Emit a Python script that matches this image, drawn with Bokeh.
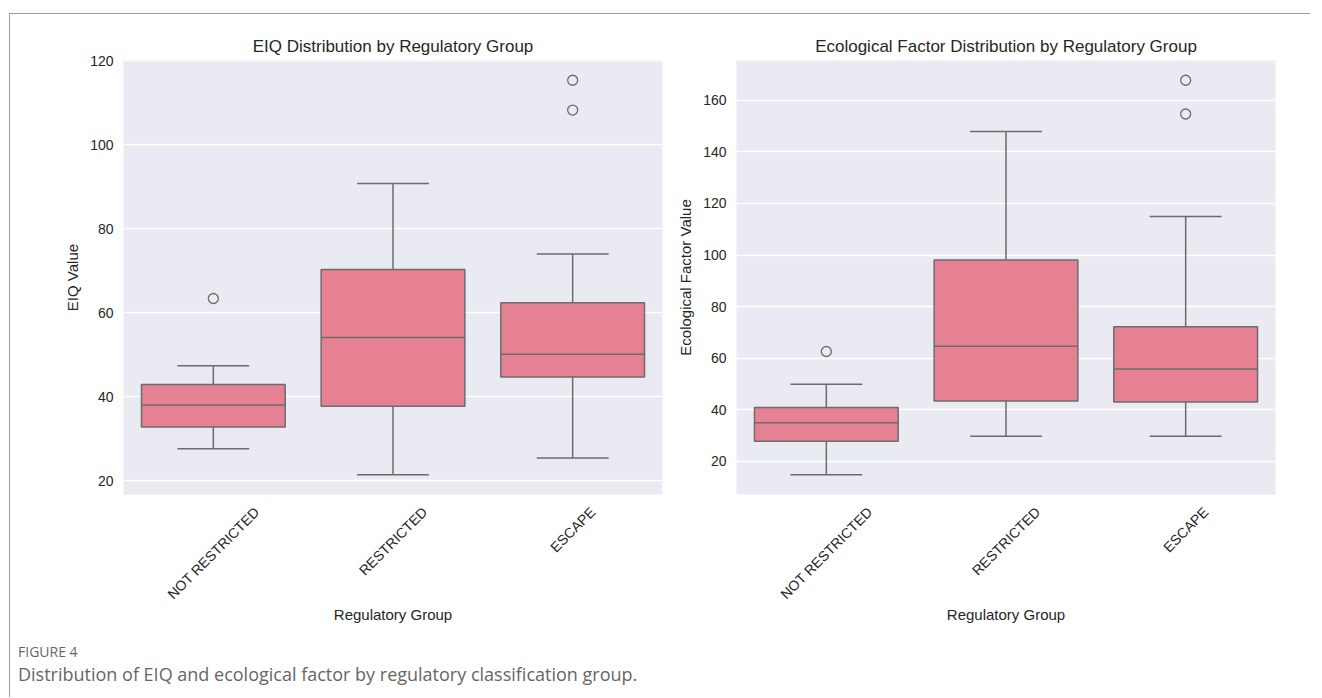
import math
from bokeh.plotting import figure
from bokeh.layouts import row, column
from bokeh.models import ColumnDataSource, Range1d, FixedTicker, Div
from bokeh.embed import file_html
from bokeh.resources import INLINE

groups = ["NOT RESTRICTED", "RESTRICTED", "ESCAPE"]

eiq_lower = [27.6, 21.4, 25.4]
eiq_q1 = [32.8, 37.7, 44.7]
eiq_median = [38.0, 54.1, 50.1]
eiq_q3 = [42.9, 70.3, 62.4]
eiq_upper = [47.4, 90.8, 74.0]
eiq_outlier_group = ["NOT RESTRICTED", "ESCAPE", "ESCAPE"]
eiq_outlier_value = [63.4, 115.4, 108.3]

eco_lower = [14.8, 29.7, 29.7]
eco_q1 = [27.8, 43.4, 43.0]
eco_median = [35.0, 64.6, 55.8]
eco_q3 = [40.9, 98.1, 72.2]
eco_upper = [49.9, 147.9, 115.0]
eco_outlier_group = ["NOT RESTRICTED", "ESCAPE", "ESCAPE"]
eco_outlier_value = [62.6, 167.8, 154.7]

eiq_ticks = [20, 40, 60, 80, 100, 120]
eco_ticks = [20, 40, 60, 80, 100, 120, 140, 160]

FONT = "Liberation Sans"
TEXT = "#262626"
BOX_FILL = "#e68193"
LINE = "#6c6c6c"
BG = "#eaeaf2"
XLABEL_PX = 14
FRAME_W = 539
BOX_W = 0.8

# Arial / Liberation Sans advance widths (per 1000 em) for label width estimate
_W = dict(A=667, B=667, C=722, D=722, E=667, F=611, G=778, H=722, I=278, J=500,
          K=667, L=556, M=833, N=722, O=778, P=667, Q=778, R=722, S=667, T=611,
          U=722, V=667, W=944, X=667, Y=667, Z=611)


def text_width(s, px):
    return sum(_W.get(c, 278) for c in s) / 1000.0 * px


def make_panel(title, ylabel, lower, q1, med, q3, upper, og, ov, ticks,
               width, height, bl, br):
    allv = lower + upper + ov
    lo, hi = min(allv), max(allv)
    pad = 0.05 * (hi - lo)
    n = len(groups)
    p = figure(x_range=Range1d(-0.5, n - 0.5), y_range=Range1d(lo - pad, hi + pad),
               width=width, height=height, output_backend="svg",
               toolbar_location=None, title=title,
               min_border_left=bl, min_border_right=br,
               min_border_top=46, min_border_bottom=10)
    pos = list(range(n))
    src = ColumnDataSource(dict(
        x=pos, capl=[x - BOX_W / 4 for x in pos], capr=[x + BOX_W / 4 for x in pos],
        boxl=[x - BOX_W / 2 for x in pos], boxr=[x + BOX_W / 2 for x in pos],
        lower=lower, q1=q1, med=med, q3=q3, upper=upper))
    # whiskers
    p.segment(x0="x", y0="q3", x1="x", y1="upper", source=src, line_color=LINE, line_width=1.5)
    p.segment(x0="x", y0="q1", x1="x", y1="lower", source=src, line_color=LINE, line_width=1.5)
    # caps
    p.segment(x0="capl", y0="upper", x1="capr", y1="upper", source=src,
              line_color=LINE, line_width=1.5)
    p.segment(x0="capl", y0="lower", x1="capr", y1="lower", source=src,
              line_color=LINE, line_width=1.5)
    # boxes
    p.vbar(x="x", width=BOX_W, bottom="q1", top="q3", source=src,
           fill_color=BOX_FILL, line_color=LINE, line_width=1.5)
    # median
    p.segment(x0="boxl", y0="med", x1="boxr", y1="med", source=src,
              line_color=LINE, line_width=1.5)
    # outliers
    osrc = ColumnDataSource(dict(x=[groups.index(g) for g in og], v=ov))
    p.scatter(x="x", y="v", source=osrc, marker="circle", size=10,
              fill_color=None, line_color=LINE, line_width=1.3)

    p.background_fill_color = BG
    p.border_fill_color = "white"
    p.outline_line_color = None
    p.xgrid.grid_line_color = None
    p.ygrid.grid_line_color = "white"
    p.ygrid.grid_line_width = 1.5
    p.yaxis.ticker = FixedTicker(ticks=ticks)

    p.title.text_font = FONT
    p.title.text_font_size = "17px"
    p.title.text_font_style = "normal"
    p.title.text_color = TEXT
    p.title.align = "center"

    # rotated category labels centred under each box: Bokeh anchors a rotated
    # label at its end, so each label tick is moved by its projected half-length
    px_per_unit = FRAME_W / n
    lab_ticks, overrides = [], {}
    for i, g in enumerate(groups):
        shift = 0.5 * text_width(g, XLABEL_PX) / math.sqrt(2) / px_per_unit
        t = round(i + shift, 3)
        lab_ticks.append(t)
        overrides[t] = g
    p.xaxis.ticker = FixedTicker(ticks=lab_ticks)
    p.xaxis.major_label_overrides = overrides
    p.xaxis.major_label_orientation = math.pi / 4
    p.xaxis.axis_label = "Regulatory Group"

    for ax in (p.xaxis[0], p.yaxis[0]):
        ax.axis_line_color = None
        ax.major_tick_line_color = None
        ax.minor_tick_line_color = None
        ax.major_tick_out = 0
        ax.major_tick_in = 0
        ax.major_label_text_font = FONT
        ax.major_label_text_font_size = f"{XLABEL_PX}px"
        ax.major_label_text_color = TEXT
        ax.axis_label_text_font = FONT
        ax.axis_label_text_font_size = "15px"
        ax.axis_label_text_font_style = "normal"
        ax.axis_label_text_color = TEXT
    p.yaxis.major_label_standoff = 10
    p.yaxis.axis_label_standoff = 6
    p.yaxis.axis_label = ylabel
    p.xaxis.major_label_standoff = 15
    p.xaxis.axis_label_standoff = -5
    return p


p1 = make_panel("EIQ Distribution by Regulatory Group", "EIQ Value",
                eiq_lower, eiq_q1, eiq_median, eiq_q3, eiq_upper,
                eiq_outlier_group, eiq_outlier_value, eiq_ticks,
                width=660, height=611, bl=113, br=8)
p2 = make_panel("Ecological Factor Distribution by Regulatory Group", "Ecological Factor Value",
                eco_lower, eco_q1, eco_median, eco_q3, eco_upper,
                eco_outlier_group, eco_outlier_value, eco_ticks,
                width=625, height=611, bl=66, br=20)

caption = Div(text=(
    "<div style=\"font-family:'Open Sans';color:#666;padding-left:3px\">"
    "<div style='font-size:14px;line-height:17px;margin-top:13px'>FIGURE 4</div>"
    "<div style='font-size:18px;line-height:23px;margin-top:3px'>"
    "Distribution of EIQ and ecological factor by regulatory classification group.</div>"
    "</div>"), width=1290, height=62)

layout = column(row(p1, p2), caption,
                styles={"margin-left": "9px", "margin-top": "13px",
                        "border-top": "1px solid #9a9a9a", "border-left": "1px solid #9a9a9a"})

open("out.html", "w").write(file_html(layout, INLINE))
